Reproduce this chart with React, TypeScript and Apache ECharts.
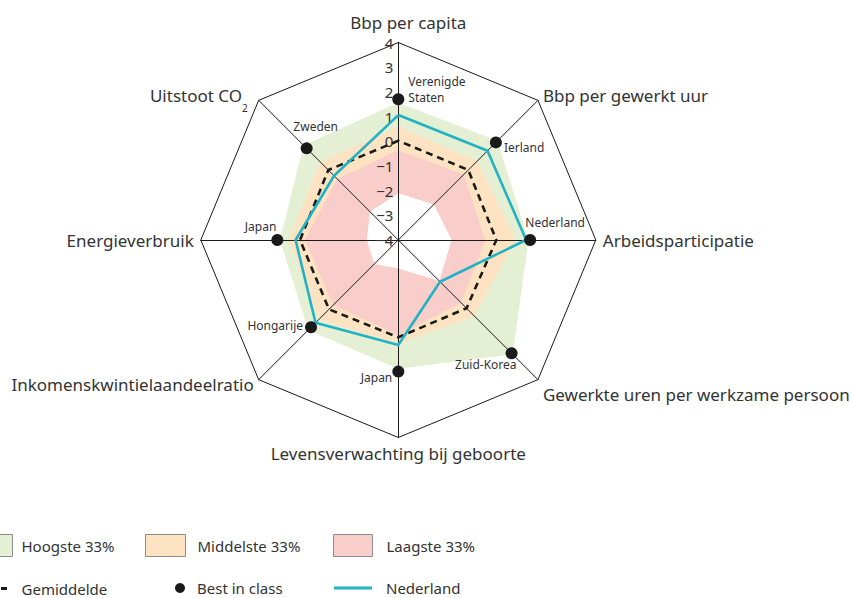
import React, { useEffect, useRef } from 'react';
import * as echarts from 'echarts';

// Axes in clockwise order, starting at the top
const axisNames = [
  'Bbp per capita',
  'Bbp per gewerkt uur',
  'Arbeidsparticipatie',
  'Gewerkte uren per werkzame persoon',
  'Levensverwachting bij geboorte',
  'Inkomenskwintielaandeelratio',
  'Energieverbruik',
  'Uitstoot CO2',
];
const tickValues = [-4, -3, -2, -1, 0, 1, 2, 3, 4];

// Band boundaries (outer edge of each band) and inner hole
const hoogste = [1.56, 1.68, 1.27, 2.56, 1.22, 1.16, 0.79, 1.43];
const middelste = [0.59, 0.52, 0.75, 0.35, 0.2, 0.55, 0.42, 0.47];
const laagste = [-0.36, -0.25, -0.48, -0.4, -0.15, -0.28, -0.22, -0.5];
const laagsteInner = [-2.11, -1.96, -1.84, -1.65, -2.85, -2.62, -2.72, -2.38];
const gemiddelde = [0.02, 0.01, -0.03, -0.09, -0.06, -0.03, -0.02, 0.01];
const nederland = [1.06, 1.11, 1.18, -1.61, 0.25, 0.74, 0.16, -0.32];
const bestInClass = [1.7, 1.59, 1.34, 2.49, 1.33, 1.0, 0.9, 1.25];
const bestCountry = ['Verenigde\nStaten', 'Ierland', 'Nederland', 'Zuid-Korea', 'Japan', 'Hongarije', 'Japan', 'Zweden'];

// ECharts radar runs counter-clockwise: map clockwise lists onto it
const order = [0, 7, 6, 5, 4, 3, 2, 1];
const reorder = <T,>(a: T[]): T[] => order.map((i) => a[i]);

const FONT = "'Noto Sans', sans-serif";
const TXT = '#333333';
const GREEN = '#e5efd3';
const ORANGE = '#fde3c2';
const PINK = '#f9cdc9';
const CYAN = '#21b3c5';
const BLACK = '#1a1a1a';

// label placement of the country names around the dots
const countryLabelPos: [number, number, string, string][] = [
  [10, -10, 'left', 'middle'],
  [8, 5, 'left', 'middle'],
  [25, -18, 'center', 'middle'],
  [5, 11, 'right', 'middle'],
  [-6, 6, 'right', 'middle'],
  [-8, -2, 'right', 'middle'],
  [-1, -14, 'right', 'middle'],
  [9, -22, 'center', 'middle'],
];

export default function App() {
  const ref = useRef<HTMLDivElement>(null);
  useEffect(() => {
    document.body.style.margin = '0';
    const chart = echarts.init(ref.current!, null, { renderer: 'svg' });

    const fmtTick = (v: number) => (v < 0 ? '\u2212' + Math.abs(v) : String(v));

    const indicators = reorder(axisNames).map((name, k) => ({
      name,
      min: tickValues[0],
      max: tickValues[tickValues.length - 1],
      ...(k === 0
        ? {
            axisLabel: {
              show: true,
              fontSize: 15,
              color: TXT,
              margin: 5,
              padding: [0, 0, 5, 0],
              formatter: fmtTick,
            },
          }
        : {}),
    }));

    const ringColors = tickValues.map((_, i) => (i === tickValues.length - 1 ? BLACK : 'rgba(0,0,0,0)'));

    const fill = (name: string, vals: number[], color: string) => ({
      type: 'radar',
      name,
      z: 1,
      symbol: 'none',
      silent: true,
      lineStyle: { width: 0, opacity: 0 },
      areaStyle: { color, opacity: 1 },
      itemStyle: { color },
      data: [{ name, value: reorder(vals) }],
    });

    const labelSeries = bestCountry.map((country, k) => ({
      type: 'radar',
      name: 'label' + k,
      z: 5,
      silent: true,
      symbol: 'circle',
      symbolSize: 2,
      itemStyle: { color: 'rgba(0,0,0,0)' },
      lineStyle: { width: 0, opacity: 0 },
      label: {
        show: true,
        position: [countryLabelPos[k][0] + 1, countryLabelPos[k][1] + 1],
        align: countryLabelPos[k][2],
        verticalAlign: countryLabelPos[k][3],
        fontSize: 12,
        lineHeight: 16,
        color: TXT,
        fontFamily: FONT,
        formatter: (p: any) => (Math.abs(Number(p.value) - bestInClass[k]) < 1e-9 ? country : ''),
      },
      data: [{ value: reorder(bestInClass) }],
    }));

    const legendBase = {
      orient: 'horizontal',
      padding: 0,
      selectedMode: false,
      itemGap: 0,
    };

    const option: any = {
      animation: false,
      textStyle: { fontFamily: FONT },
      radar: {
        center: [398.3, 240],
        radius: 197.5,
        startAngle: 90,
        splitNumber: tickValues.length - 1,
        shape: 'polygon',
        z: 2,
        nameGap: 7,
        axisName: {
          color: TXT,
          fontSize: 17,
          fontFamily: FONT,
          formatter: (name: string) => {
            if (name === 'Bbp per capita') return '{top|' + name + '}';
            if (name === 'Gewerkte uren per werkzame persoon') return '{low|' + name + '}';
            if (name === 'Uitstoot CO2') return '{n|Uitstoot CO}{sub|2}';
            return name;
          },
          rich: {
            n: { fontSize: 17, color: TXT, fontFamily: FONT },
            top: { fontSize: 17, color: TXT, fontFamily: FONT, padding: [0, 0, 5, 20] },
            low: { fontSize: 17, color: TXT, fontFamily: FONT, padding: [20, 0, 0, 0] },
            sub: { fontSize: 10, lineHeight: 10, color: TXT, fontFamily: FONT, padding: [16, 6, 0, 0], verticalAlign: 'top' },
          },
        },
        axisLine: { show: true, lineStyle: { color: BLACK, width: 1 } },
        axisTick: { show: false },
        axisLabel: { show: false },
        splitLine: { show: true, lineStyle: { color: ringColors, width: 1 } },
        splitArea: { show: false },
        indicator: indicators,
      },
      legend: [
        {
          ...legendBase,
          left: -28,
          top: 534,
          itemWidth: 40,
          itemHeight: 22,
          textStyle: { fontSize: 15, color: TXT, padding: [10, 0, 0, 4] },
          data: [{ name: 'Hoogste 33%', icon: 'rect', itemStyle: { color: GREEN, borderColor: '#8c8c8c', borderWidth: 1 } }],
        },
        {
          ...legendBase,
          left: 145,
          top: 534,
          itemWidth: 40,
          itemHeight: 22,
          textStyle: { fontSize: 15, color: TXT, padding: [10, 0, 0, 7] },
          data: [{ name: 'Middelste 33%', icon: 'rect', itemStyle: { color: ORANGE, borderColor: '#8c8c8c', borderWidth: 1 } }],
        },
        {
          ...legendBase,
          left: 333,
          top: 534,
          itemWidth: 39,
          itemHeight: 22,
          textStyle: { fontSize: 15, color: TXT, padding: [10, 0, 0, 9] },
          data: [{ name: 'Laagste 33%', icon: 'rect', itemStyle: { color: PINK, borderColor: '#8c8c8c', borderWidth: 1 } }],
        },
        {
          ...legendBase,
          left: -32,
          top: 581,
          itemWidth: 40,
          itemHeight: 3,
          textStyle: { fontSize: 15, color: TXT, padding: [0, 0, 7, 9] },
          data: [
            {
              name: 'Gemiddelde',
              icon: 'path://M0,0h6v3h-6z M11,0h6v3h-6z M22,0h6v3h-6z M33,0h6v3h-6z',
              itemStyle: { color: BLACK, borderWidth: 0 },
            },
          ],
        },
        {
          ...legendBase,
          left: 175,
          top: 580.5,
          itemWidth: 10,
          itemHeight: 10,
          textStyle: { fontSize: 15, color: TXT, padding: [0, 0, 5, 7] },
          data: [{ name: 'Best in class', icon: 'circle', itemStyle: { color: BLACK, borderWidth: 0 } }],
        },
        {
          ...legendBase,
          left: 334,
          top: 580.5,
          itemWidth: 38,
          itemHeight: 3,
          textStyle: { fontSize: 15, color: TXT, padding: [0, 0, 11, 9] },
          data: [{ name: 'Nederland', icon: 'rect', itemStyle: { color: CYAN, borderWidth: 0 } }],
        },
      ],
      series: [
        fill('Hoogste 33%', hoogste, GREEN),
        fill('Middelste 33%', middelste, ORANGE),
        fill('Laagste 33%', laagste, PINK),
        fill('hole', laagsteInner, '#ffffff'),
        {
          type: 'radar',
          name: 'Gemiddelde',
          z: 3,
          silent: true,
          symbol: 'none',
          itemStyle: { color: BLACK },
          lineStyle: { color: BLACK, width: 2.6, type: [7, 5] },
          data: [{ name: 'Gemiddelde', value: reorder(gemiddelde) }],
        },
        {
          type: 'radar',
          name: 'Nederland',
          z: 3,
          silent: true,
          symbol: 'none',
          itemStyle: { color: CYAN },
          lineStyle: { color: CYAN, width: 2.6 },
          data: [{ name: 'Nederland', value: reorder(nederland) }],
        },
        {
          type: 'radar',
          name: 'Best in class',
          z: 4,
          silent: true,
          symbol: 'circle',
          symbolSize: 12,
          itemStyle: { color: BLACK },
          lineStyle: { width: 0, opacity: 0 },
          data: [{ name: 'Best in class', value: reorder(bestInClass) }],
        },
        ...labelSeries,
      ],
    };

    chart.setOption(option);
    return () => chart.dispose();
  }, []);
  return <div ref={ref} style={{ width: 852, height: 598 }} />;
}
